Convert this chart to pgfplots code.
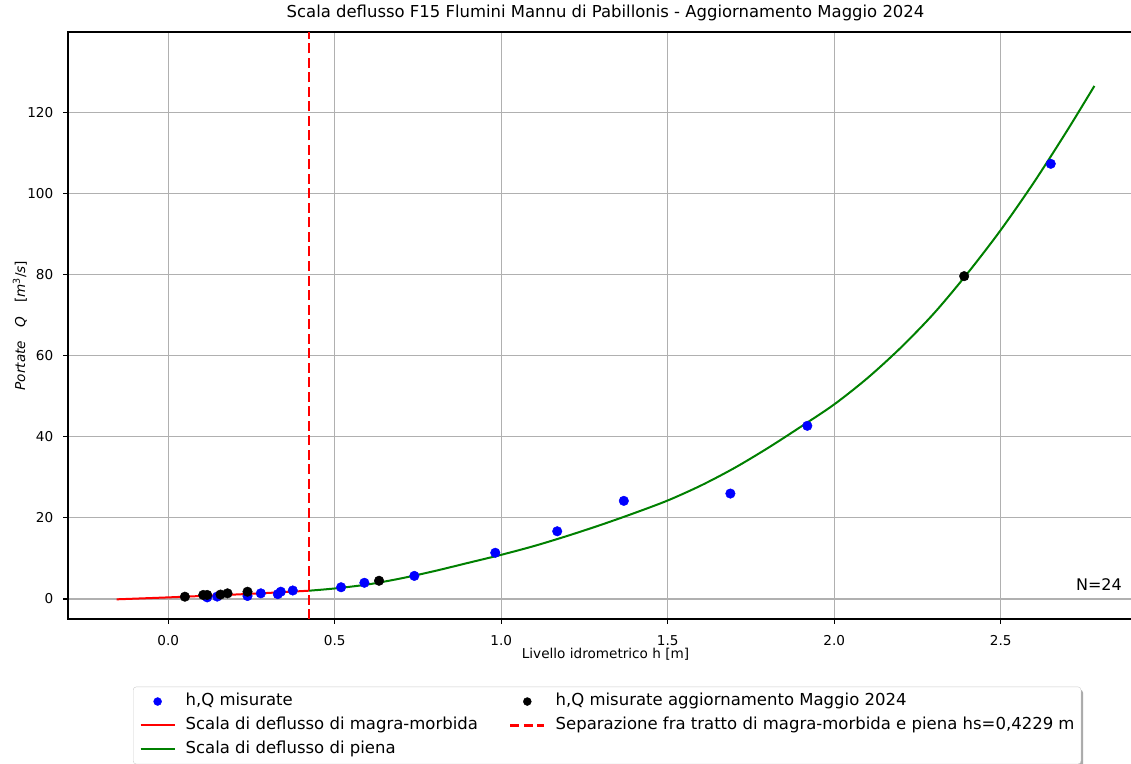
\documentclass[border=0pt]{standalone}
\usepackage{fontspec}
\setmainfont{DejaVu Sans}
\usepackage{pgfplots}
\pgfplotsset{compat=1.18}
\definecolor{mplgreen}{RGB}{0,128,0}
\definecolor{gridgray}{RGB}{176,176,176}
\definecolor{legedge}{RGB}{204,204,204}
\definecolor{shadowgray}{RGB}{170,170,170}
\begin{document}
\begin{tikzpicture}
% legend shadow (drawn first, beneath the legend box)
\fill[shadowgray, rounded corners=3pt] (68pt,-70.7pt) rectangle (1015pt,-175pt);
\begin{axis}[
  at={(0pt,0pt)}, anchor=south west,
  width=1075pt, height=587pt, scale only axis,
  xmin=-0.301, xmax=2.927, ymin=-4.93, ymax=139.8,
  xtick={0,0.5,1,1.5,2,2.5},
  ytick={0,20,40,60,80,100,120},
  /pgf/number format/assume math mode=true,
  grid=major,
  major grid style={gridgray, line width=1.1pt},
  axis line style={black, line width=1.1pt},
  tick style={black, line width=1.1pt},
  tick align=outside,
  major tick length=4.8pt,
  xtick pos=lower, ytick pos=left,
  tick label style={font=\fontsize{13.6}{16}\selectfont, inner sep=0pt},
  xticklabel style={anchor=base, yshift=-21.7pt, /pgf/number format/fixed, /pgf/number format/fixed zerofill, /pgf/number format/precision=1},
  yticklabel style={anchor=east, xshift=-9.7pt},
  title={Scala deflusso F15 Flumini Mannu di Pabillonis - Aggiornamento Maggio 2024},
  title style={font=\fontsize{16.45}{19}\selectfont, at={(axis description cs:0.5,1)}, anchor=base, yshift=8.2pt, inner sep=0pt},
  xlabel={Livello idrometrico h [m]},
  xlabel style={font=\fontsize{13.6}{16}\selectfont, at={(axis description cs:0.5,0)}, anchor=base, yshift=-39.3pt, inner sep=0pt},
  ylabel={\itshape Portate\quad Q\quad {\upshape[}m\textsuperscript{\upshape 3}{\upshape /}s{\upshape]}},
  ylabel style={font=\fontsize{13.6}{16}\selectfont, at={(axis description cs:-0.0447,0.5)}, anchor=center, inner sep=0pt},
  legend columns=2,
  legend cell align=left,
  legend style={at={(axis description cs:0.0605,-0.1153)}, anchor=north west,
    draw=legedge, fill=white, rounded corners=3pt, inner sep=6.4pt,
    font=\fontsize{16.5}{19}\selectfont,
    nodes={inner sep=0pt, text height=12.6pt, text depth=3.9pt},
    row sep=7.4pt,
    /tikz/every odd column/.style={column sep=10pt},
    /tikz/every even column/.style={column sep=31pt}},
]
% scala magra-morbida
\addplot[red, line width=2pt, smooth, forget plot] coordinates {
(-0.155,-0.08) (0,0.4) (0.1,0.75) (0.2,1.1) (0.3,1.5) (0.4229,2.05)};
% scala piena
\addplot[mplgreen, line width=2pt, smooth, forget plot] coordinates {
(0.4229,2.05) (0.5,2.6) (0.6,3.6) (0.7,5.1) (0.8,6.9) (0.9,8.9) (1.0,10.9)
(1.1,13.1) (1.2,15.6) (1.3,18.3) (1.4,21.2) (1.5,24.3) (1.6,28.0) (1.7,32.3)
(1.8,37.2) (1.9,42.5) (2.0,48.0) (2.1,54.5) (2.2,62.0) (2.3,70.5) (2.4,80.3)
(2.5,91.0) (2.6,102.8) (2.7,115.6) (2.781,126.5)};
% separazione
\addplot[red, line width=2.7pt, dash pattern=on 10pt off 4.5pt, forget plot] coordinates {
(0.4229,-4.93) (0.4229,139.8)};
% misurate
\addplot[only marks, mark=*, mark size=4.8pt, blue, forget plot] coordinates {
(0.117,0.4) (0.147,0.6) (0.238,0.75) (0.278,1.4) (0.329,1.2) (0.338,1.8)
(0.374,2.1) (0.519,2.9) (0.589,4.0) (0.739,5.7) (0.982,11.4) (1.168,16.7)
(1.368,24.2) (1.688,26.0) (1.919,42.7) (2.650,107.3)};
% aggiornamento Maggio 2024
\addplot[only marks, mark=*, mark size=4.8pt, black, forget plot] coordinates {
(0.050,0.57) (0.105,1.0) (0.117,1.0) (0.157,1.1) (0.178,1.4) (0.238,1.8)
(0.633,4.5) (2.390,79.6)};
\addlegendimage{legend image code/.code={\fill[blue] (17pt,0pt) circle (4pt);}}
\addlegendentry{h,Q misurate}
\addlegendimage{legend image code/.code={\fill[black] (17pt,0pt) circle (4pt);}}
\addlegendentry{h,Q misurate aggiornamento Maggio 2024}
\addlegendimage{legend image code/.code={\draw[red, line width=2pt] (0pt,0pt) -- (34pt,0pt);}}
\addlegendentry{Scala di deflusso di magra-morbida}
\addlegendimage{legend image code/.code={\draw[red, line width=2.7pt, dash pattern=on 9pt off 4.5pt] (0pt,0pt) -- (34pt,0pt);}}
\addlegendentry{Separazione fra tratto di magra-morbida e piena hs=0,4229 m}
\addlegendimage{legend image code/.code={\draw[mplgreen, line width=2pt] (0pt,0pt) -- (34pt,0pt);}}
\addlegendentry{Scala di deflusso di piena}
\node[anchor=base east, font=\fontsize{16}{19}\selectfont, inner sep=0pt] at (axis description cs:0.9805,0.049) {N=24};
\end{axis}
\pgfresetboundingbox
\path[use as bounding box] (-68pt,-144pt) rectangle (1063pt,619pt);
\end{tikzpicture}
\end{document}
